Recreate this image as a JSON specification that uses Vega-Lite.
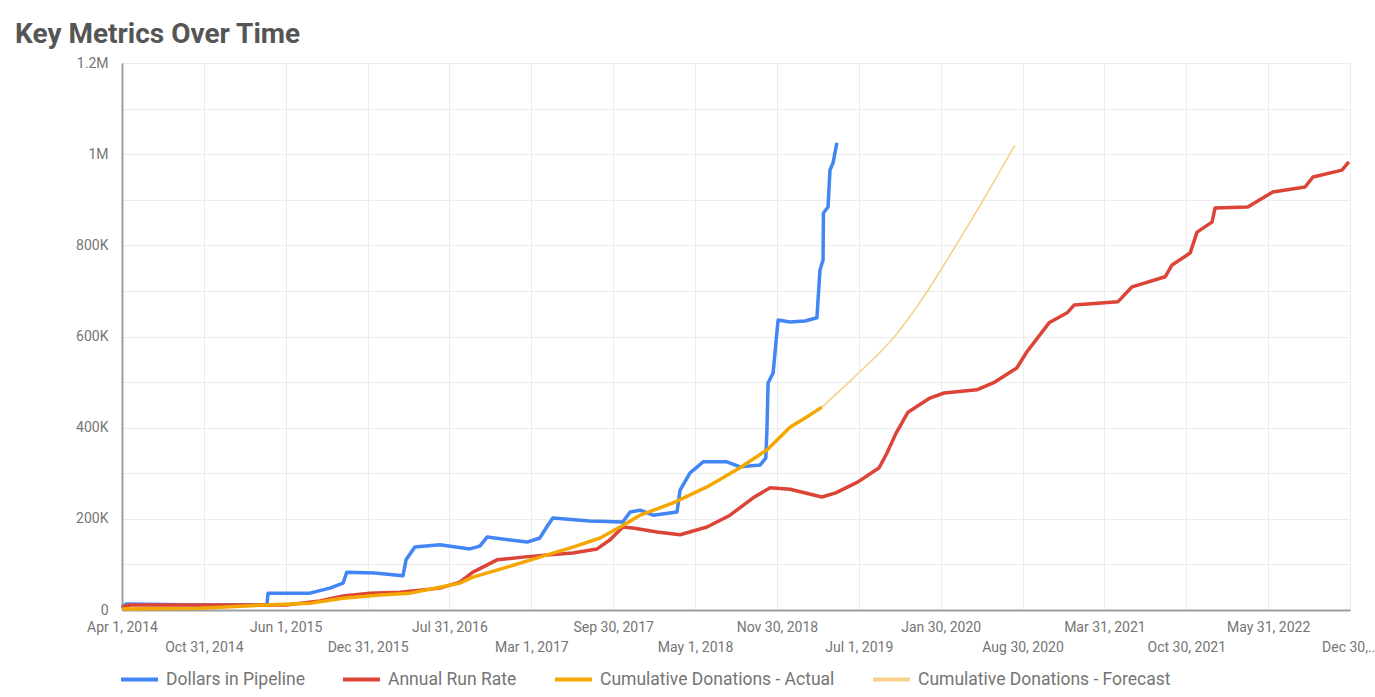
{
  "$schema": "https://vega.github.io/schema/vega-lite/v6.json",
  "autosize": "none",
  "padding": {"left": 122, "top": 63, "right": 25, "bottom": 87},
  "width": 1228,
  "height": 547,
  "background": "white",
  "title": {
    "text": "Key Metrics Over Time",
    "anchor": "start",
    "frame": "group",
    "dx": -107,
    "offset": 7,
    "font": "Roboto",
    "fontSize": 28,
    "fontWeight": "bold",
    "color": "#555555"
  },
  "config": {
    "view": {"stroke": null},
    "font": "Roboto"
  },
  "data": {
    "values": [
      {"date": "2014-04-01", "value": 4000, "series": "Dollars in Pipeline"},
      {"date": "2014-04-11", "value": 13000, "series": "Dollars in Pipeline"},
      {"date": "2014-10-21", "value": 11000, "series": "Dollars in Pipeline"},
      {"date": "2015-04-13", "value": 11000, "series": "Dollars in Pipeline"},
      {"date": "2015-04-16", "value": 37000, "series": "Dollars in Pipeline"},
      {"date": "2015-08-03", "value": 37000, "series": "Dollars in Pipeline"},
      {"date": "2015-09-24", "value": 48000, "series": "Dollars in Pipeline"},
      {"date": "2015-10-28", "value": 59000, "series": "Dollars in Pipeline"},
      {"date": "2015-11-07", "value": 83000, "series": "Dollars in Pipeline"},
      {"date": "2016-01-19", "value": 81000, "series": "Dollars in Pipeline"},
      {"date": "2016-04-01", "value": 75000, "series": "Dollars in Pipeline"},
      {"date": "2016-04-09", "value": 110000, "series": "Dollars in Pipeline"},
      {"date": "2016-05-02", "value": 138000, "series": "Dollars in Pipeline"},
      {"date": "2016-07-06", "value": 143000, "series": "Dollars in Pipeline"},
      {"date": "2016-09-22", "value": 134000, "series": "Dollars in Pipeline"},
      {"date": "2016-10-18", "value": 140000, "series": "Dollars in Pipeline"},
      {"date": "2016-11-06", "value": 160000, "series": "Dollars in Pipeline"},
      {"date": "2017-02-18", "value": 149000, "series": "Dollars in Pipeline"},
      {"date": "2017-03-23", "value": 158000, "series": "Dollars in Pipeline"},
      {"date": "2017-04-13", "value": 186000, "series": "Dollars in Pipeline"},
      {"date": "2017-04-26", "value": 202000, "series": "Dollars in Pipeline"},
      {"date": "2017-07-31", "value": 195000, "series": "Dollars in Pipeline"},
      {"date": "2017-10-25", "value": 193000, "series": "Dollars in Pipeline"},
      {"date": "2017-11-13", "value": 215000, "series": "Dollars in Pipeline"},
      {"date": "2017-12-09", "value": 219000, "series": "Dollars in Pipeline"},
      {"date": "2018-01-12", "value": 208000, "series": "Dollars in Pipeline"},
      {"date": "2018-03-15", "value": 215000, "series": "Dollars in Pipeline"},
      {"date": "2018-03-23", "value": 263000, "series": "Dollars in Pipeline"},
      {"date": "2018-04-18", "value": 301000, "series": "Dollars in Pipeline"},
      {"date": "2018-05-22", "value": 325000, "series": "Dollars in Pipeline"},
      {"date": "2018-07-23", "value": 325000, "series": "Dollars in Pipeline"},
      {"date": "2018-08-26", "value": 314000, "series": "Dollars in Pipeline"},
      {"date": "2018-10-17", "value": 318000, "series": "Dollars in Pipeline"},
      {"date": "2018-11-01", "value": 333000, "series": "Dollars in Pipeline"},
      {"date": "2018-11-04", "value": 395000, "series": "Dollars in Pipeline"},
      {"date": "2018-11-07", "value": 498000, "series": "Dollars in Pipeline"},
      {"date": "2018-11-20", "value": 520000, "series": "Dollars in Pipeline"},
      {"date": "2018-12-03", "value": 636000, "series": "Dollars in Pipeline"},
      {"date": "2019-01-03", "value": 632000, "series": "Dollars in Pipeline"},
      {"date": "2019-02-11", "value": 634000, "series": "Dollars in Pipeline"},
      {"date": "2019-03-14", "value": 641000, "series": "Dollars in Pipeline"},
      {"date": "2019-03-22", "value": 746000, "series": "Dollars in Pipeline"},
      {"date": "2019-03-30", "value": 768000, "series": "Dollars in Pipeline"},
      {"date": "2019-03-31", "value": 871000, "series": "Dollars in Pipeline"},
      {"date": "2019-04-12", "value": 884000, "series": "Dollars in Pipeline"},
      {"date": "2019-04-17", "value": 965000, "series": "Dollars in Pipeline"},
      {"date": "2019-04-25", "value": 981000, "series": "Dollars in Pipeline"},
      {"date": "2019-05-05", "value": 1025000, "series": "Dollars in Pipeline"},

      {"date": "2014-04-01", "value": 7000, "series": "Annual Run Rate"},
      {"date": "2014-04-22", "value": 11000, "series": "Annual Run Rate"},
      {"date": "2015-06-01", "value": 11000, "series": "Annual Run Rate"},
      {"date": "2015-08-29", "value": 20000, "series": "Annual Run Rate"},
      {"date": "2015-10-28", "value": 31000, "series": "Annual Run Rate"},
      {"date": "2016-01-06", "value": 37000, "series": "Annual Run Rate"},
      {"date": "2016-03-24", "value": 39000, "series": "Annual Run Rate"},
      {"date": "2016-07-06", "value": 48000, "series": "Annual Run Rate"},
      {"date": "2016-08-27", "value": 61000, "series": "Annual Run Rate"},
      {"date": "2016-09-30", "value": 83000, "series": "Annual Run Rate"},
      {"date": "2016-12-02", "value": 110000, "series": "Annual Run Rate"},
      {"date": "2017-02-07", "value": 116000, "series": "Annual Run Rate"},
      {"date": "2017-04-18", "value": 121000, "series": "Annual Run Rate"},
      {"date": "2017-06-17", "value": 125000, "series": "Annual Run Rate"},
      {"date": "2017-08-19", "value": 134000, "series": "Annual Run Rate"},
      {"date": "2017-09-22", "value": 154000, "series": "Annual Run Rate"},
      {"date": "2017-10-25", "value": 182000, "series": "Annual Run Rate"},
      {"date": "2017-11-20", "value": 180000, "series": "Annual Run Rate"},
      {"date": "2018-01-22", "value": 171000, "series": "Annual Run Rate"},
      {"date": "2018-03-23", "value": 165000, "series": "Annual Run Rate"},
      {"date": "2018-06-01", "value": 182000, "series": "Annual Run Rate"},
      {"date": "2018-07-31", "value": 208000, "series": "Annual Run Rate"},
      {"date": "2018-09-29", "value": 246000, "series": "Annual Run Rate"},
      {"date": "2018-11-12", "value": 268000, "series": "Annual Run Rate"},
      {"date": "2019-01-03", "value": 265000, "series": "Annual Run Rate"},
      {"date": "2019-03-27", "value": 248000, "series": "Annual Run Rate"},
      {"date": "2019-05-02", "value": 257000, "series": "Annual Run Rate"},
      {"date": "2019-06-29", "value": 281000, "series": "Annual Run Rate"},
      {"date": "2019-08-23", "value": 312000, "series": "Annual Run Rate"},
      {"date": "2019-09-12", "value": 344000, "series": "Annual Run Rate"},
      {"date": "2019-10-06", "value": 388000, "series": "Annual Run Rate"},
      {"date": "2019-11-06", "value": 434000, "series": "Annual Run Rate"},
      {"date": "2020-01-02", "value": 465000, "series": "Annual Run Rate"},
      {"date": "2020-02-08", "value": 476000, "series": "Annual Run Rate"},
      {"date": "2020-05-03", "value": 483000, "series": "Annual Run Rate"},
      {"date": "2020-06-19", "value": 500000, "series": "Annual Run Rate"},
      {"date": "2020-08-15", "value": 531000, "series": "Annual Run Rate"},
      {"date": "2020-09-10", "value": 566000, "series": "Annual Run Rate"},
      {"date": "2020-11-07", "value": 630000, "series": "Annual Run Rate"},
      {"date": "2020-12-24", "value": 652000, "series": "Annual Run Rate"},
      {"date": "2021-01-11", "value": 669000, "series": "Annual Run Rate"},
      {"date": "2021-05-05", "value": 676000, "series": "Annual Run Rate"},
      {"date": "2021-06-11", "value": 709000, "series": "Annual Run Rate"},
      {"date": "2021-09-05", "value": 731000, "series": "Annual Run Rate"},
      {"date": "2021-09-23", "value": 757000, "series": "Annual Run Rate"},
      {"date": "2021-11-09", "value": 783000, "series": "Annual Run Rate"},
      {"date": "2021-11-27", "value": 829000, "series": "Annual Run Rate"},
      {"date": "2022-01-05", "value": 851000, "series": "Annual Run Rate"},
      {"date": "2022-01-13", "value": 882000, "series": "Annual Run Rate"},
      {"date": "2022-04-08", "value": 884000, "series": "Annual Run Rate"},
      {"date": "2022-06-12", "value": 917000, "series": "Annual Run Rate"},
      {"date": "2022-09-04", "value": 928000, "series": "Annual Run Rate"},
      {"date": "2022-09-25", "value": 950000, "series": "Annual Run Rate"},
      {"date": "2022-12-09", "value": 965000, "series": "Annual Run Rate"},
      {"date": "2022-12-27", "value": 983000, "series": "Annual Run Rate"},

      {"date": "2014-04-01", "value": 2000, "series": "Cumulative Donations - Actual"},
      {"date": "2014-10-21", "value": 4000, "series": "Cumulative Donations - Actual"},
      {"date": "2015-04-13", "value": 11000, "series": "Cumulative Donations - Actual"},
      {"date": "2015-08-03", "value": 15000, "series": "Cumulative Donations - Actual"},
      {"date": "2015-10-28", "value": 26000, "series": "Cumulative Donations - Actual"},
      {"date": "2016-02-01", "value": 33000, "series": "Cumulative Donations - Actual"},
      {"date": "2016-04-19", "value": 37000, "series": "Cumulative Donations - Actual"},
      {"date": "2016-07-06", "value": 50000, "series": "Cumulative Donations - Actual"},
      {"date": "2016-08-27", "value": 59000, "series": "Cumulative Donations - Actual"},
      {"date": "2016-09-30", "value": 72000, "series": "Cumulative Donations - Actual"},
      {"date": "2016-12-28", "value": 94000, "series": "Cumulative Donations - Actual"},
      {"date": "2017-03-23", "value": 116000, "series": "Cumulative Donations - Actual"},
      {"date": "2017-06-17", "value": 138000, "series": "Cumulative Donations - Actual"},
      {"date": "2017-08-27", "value": 158000, "series": "Cumulative Donations - Actual"},
      {"date": "2017-10-18", "value": 182000, "series": "Cumulative Donations - Actual"},
      {"date": "2017-12-09", "value": 208000, "series": "Cumulative Donations - Actual"},
      {"date": "2018-03-05", "value": 235000, "series": "Cumulative Donations - Actual"},
      {"date": "2018-06-01", "value": 270000, "series": "Cumulative Donations - Actual"},
      {"date": "2018-08-26", "value": 312000, "series": "Cumulative Donations - Actual"},
      {"date": "2018-11-04", "value": 351000, "series": "Cumulative Donations - Actual"},
      {"date": "2019-01-03", "value": 401000, "series": "Cumulative Donations - Actual"},
      {"date": "2019-02-24", "value": 428000, "series": "Cumulative Donations - Actual"},
      {"date": "2019-03-27", "value": 445000, "series": "Cumulative Donations - Actual"},

      {"date": "2019-03-27", "value": 445000, "series": "Cumulative Donations - Forecast"},
      {"date": "2019-06-19", "value": 511000, "series": "Cumulative Donations - Forecast"},
      {"date": "2019-10-01", "value": 599000, "series": "Cumulative Donations - Forecast"},
      {"date": "2019-12-23", "value": 695000, "series": "Cumulative Donations - Forecast"},
      {"date": "2020-03-07", "value": 796000, "series": "Cumulative Donations - Forecast"},
      {"date": "2020-06-01", "value": 917000, "series": "Cumulative Donations - Forecast"},
      {"date": "2020-08-10", "value": 1020000, "series": "Cumulative Donations - Forecast"}
    ]
  },
  "encoding": {
    "x": {
      "field": "date",
      "type": "temporal",
      "scale": {
        "type": "utc",
        "domain": [
          {"year": 2014, "month": 4, "date": 1, "utc": true},
          {"year": 2022, "month": 12, "date": 30, "utc": true}
        ]
      },
      "axis": {
        "title": null,
        "values": [
          {"year": 2014, "month": 4, "date": 1, "utc": true},
          {"year": 2014, "month": 10, "date": 31, "utc": true},
          {"year": 2015, "month": 6, "date": 1, "utc": true},
          {"year": 2015, "month": 12, "date": 31, "utc": true},
          {"year": 2016, "month": 7, "date": 31, "utc": true},
          {"year": 2017, "month": 3, "date": 1, "utc": true},
          {"year": 2017, "month": 9, "date": 30, "utc": true},
          {"year": 2018, "month": 5, "date": 1, "utc": true},
          {"year": 2018, "month": 11, "date": 30, "utc": true},
          {"year": 2019, "month": 7, "date": 1, "utc": true},
          {"year": 2020, "month": 1, "date": 30, "utc": true},
          {"year": 2020, "month": 8, "date": 30, "utc": true},
          {"year": 2021, "month": 3, "date": 31, "utc": true},
          {"year": 2021, "month": 10, "date": 30, "utc": true},
          {"year": 2022, "month": 5, "date": 31, "utc": true},
          {"year": 2022, "month": 12, "date": 30, "utc": true}
        ],
        "format": "%b %-d, %Y",
        "labelExpr": "datum.index > 0.99 ? ['', 'Dec 30,...'] : (round(datum.index * 15) % 2 == 1 ? ['', datum.label] : datum.label)",
        "labelOverlap": false,
        "labelBound": false,
        "labelFlush": false,
        "labelLineHeight": 20,
        "labelFont": "Roboto",
        "labelFontSize": 14,
        "labelColor": "#757575",
        "labelPadding": 10,
        "ticks": false,
        "grid": true,
        "gridColor": "#ececec",
        "gridWidth": 1,
        "domainColor": "#9e9e9e",
        "domainWidth": 2
      }
    },
    "y": {
      "field": "value",
      "type": "quantitative",
      "scale": {"domain": [0, 1200000], "nice": false},
      "axis": {
        "title": null,
        "values": [0, 100000, 200000, 300000, 400000, 500000, 600000, 700000, 800000, 900000, 1000000, 1100000, 1200000],
        "labelExpr": "datum.value % 200000 != 0 ? '' : (datum.value >= 1000000 ? format(datum.value / 1000000, '~g') + 'M' : (datum.value == 0 ? '0' : format(datum.value / 1000, 'd') + 'K'))",
        "labelFont": "Roboto",
        "labelFontSize": 14,
        "labelColor": "#757575",
        "labelPadding": 14,
        "ticks": false,
        "grid": true,
        "gridColor": "#ececec",
        "gridWidth": 1,
        "domainColor": "#9e9e9e",
        "domainWidth": 2
      }
    },
    "color": {
      "field": "series",
      "type": "nominal",
      "scale": {
        "domain": ["Dollars in Pipeline", "Annual Run Rate", "Cumulative Donations - Actual", "Cumulative Donations - Forecast"],
        "range": ["#4285F4", "#DB4437", "#F4A700", "#F9D18B"]
      },
      "legend": {
        "title": null,
        "orient": "none",
        "legendX": -3,
        "legendY": 596,
        "direction": "horizontal",
        "symbolType": "stroke",
        "symbolSize": 1369,
        "symbolStrokeWidth": 4,
        "labelFont": "Roboto",
        "labelFontSize": 17.5,
        "labelColor": "#757575",
        "labelOffset": 6,
        "labelLimit": 400,
        "columnPadding": 30
      }
    }
  },
  "layer": [
    {
      "transform": [{"filter": "datum.series != 'Cumulative Donations - Forecast'"}],
      "mark": {"type": "line", "strokeWidth": 3.5, "strokeJoin": "round"}
    },
    {
      "transform": [{"filter": "datum.series == 'Cumulative Donations - Forecast'"}],
      "mark": {"type": "line", "strokeWidth": 1.6, "interpolate": "monotone"}
    }
  ]
}
